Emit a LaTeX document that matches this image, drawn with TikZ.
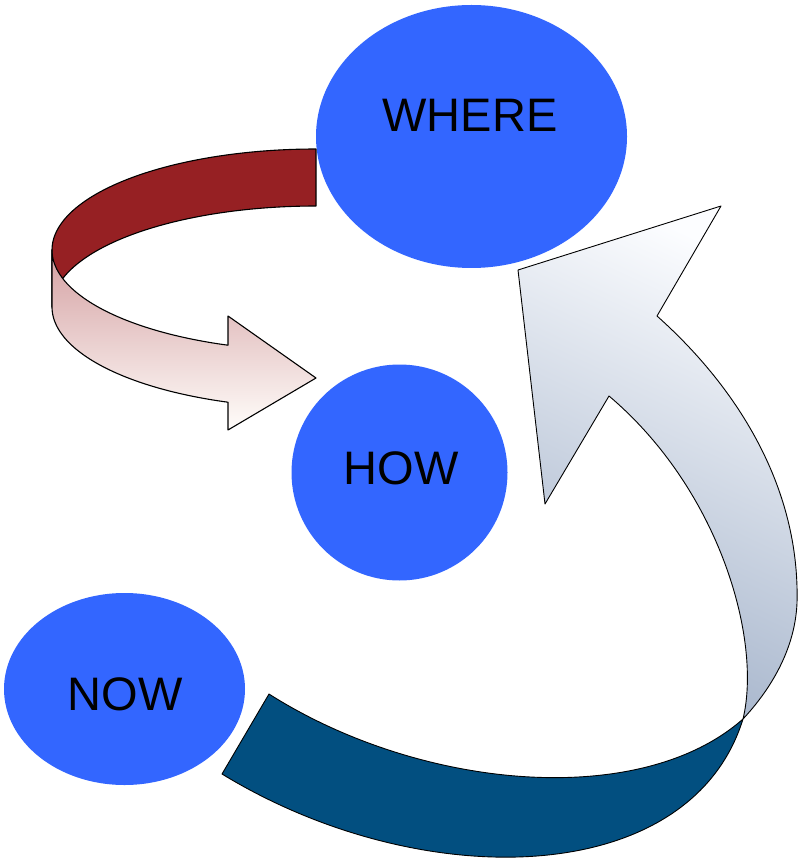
\documentclass[tikz,border=0pt]{standalone}
\usepackage{fontspec}
\setmainfont{Liberation Sans}
\usetikzlibrary{shapes.geometric}
\definecolor{blobblue}{RGB}{51,102,255}
\definecolor{redback}{RGB}{150,32,35}
\definecolor{redpink}{RGB}{212,160,162}
\definecolor{redwhite}{RGB}{255,253,250}
\definecolor{darkband}{RGB}{2,79,128}
\definecolor{lighttop}{RGB}{252,253,255}
\definecolor{lightmid}{RGB}{234,238,244}
\definecolor{lightbot}{RGB}{165,180,203}
\tikzset{
  blob/.style={ellipse, fill=blobblue, draw=none, inner sep=0pt},
  lbl/.style={font=\fontsize{47}{56}\selectfont, text=black, inner sep=0pt, anchor=base},
  ribbonline/.style={draw=black, line width=1.1pt, line join=round},
  bandline/.style={draw=black, line width=0.9pt, line join=round}
}
\begin{document}
\begin{tikzpicture}[x=1pt,y=-1pt]
\useasboundingbox (0,0) rectangle (798,858);
\fill[white] (0,0) rectangle (798,858);

% circles
\node[blob, minimum width=311pt, minimum height=263pt] (where) at (471.5,136.5) {};
\node[blob, minimum width=216pt, minimum height=216pt] (how) at (399.5,472.5) {};
\node[blob, minimum width=241pt, minimum height=192pt] (now) at (124.5,689) {};

% red ribbon arrow: back face
\path[ribbonline, fill=redback]
  plot[domain=-90:-180, samples=60] ({316+264*cos(\x)},{250+101*sin(\x)})
  -- plot[domain=-180:-90, samples=60] ({316+264*cos(\x)},{307+101*sin(\x)})
  -- cycle;
% red ribbon arrow: front face with head
\path[ribbonline, top color=redpink, bottom color=redwhite]
  plot[domain=180:109.47, samples=60] ({316+264*cos(\x)},{307+101*sin(\x)})
  -- (228,430) -- (316,378) -- (228,316)
  -- plot[domain=109.47:180, samples=60] ({316+264*cos(\x)},{250+101*sin(\x)})
  -- cycle;

% dark band (lower part of the big arrow)
\coordinate (pinch) at (743,719);
\coordinate (dA) at (269,694);
\coordinate (dB) at (222,774);
\path[bandline, fill=darkband]
  (dA) .. controls (420,790) and (640,810) .. (pinch)
  .. controls (690,890) and (420,895) .. (dB) -- cycle;

% light band with arrowhead
\coordinate (nR) at (657,316);
\coordinate (nL) at (609,396);
\coordinate (bL) at (545,504);
\coordinate (tip) at (518,270);
\coordinate (bR) at (721,206);
\path[bandline, top color=lighttop, middle color=lightmid, bottom color=lightbot, shading angle=-25]
  (nR) .. controls (740,390) and (800,490) .. (797,603)
  .. controls (795,650) and (770,690) .. (pinch)
  .. controls (762,640) and (720,490) .. (nL)
  -- (bL) -- (tip) -- (bR) -- cycle;

% labels
\node[lbl] (wheretext) at (470,132) {WHERE};
\node[lbl] (howtext) at (401,484) {HOW};
\node[lbl] (nowtext) at (125,710) {NOW};
\end{tikzpicture}
\end{document}
